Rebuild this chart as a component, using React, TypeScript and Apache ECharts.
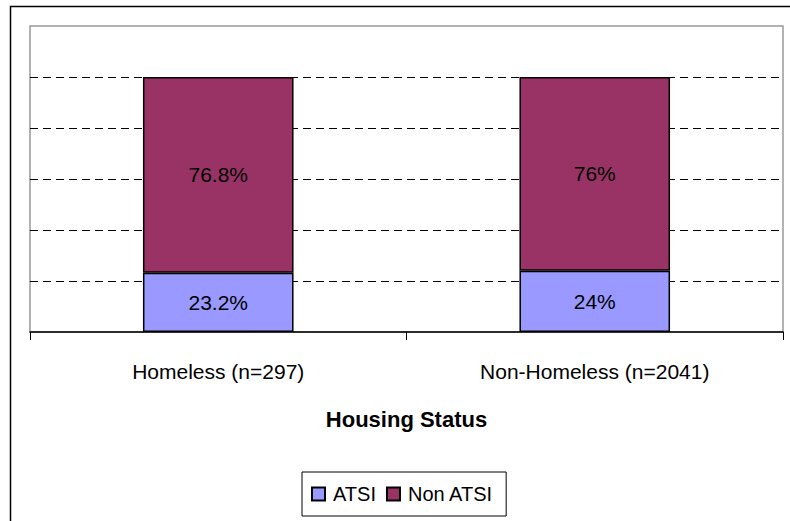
import React, { useEffect, useRef } from "react";
import * as echarts from "echarts";

const categories = ["Homeless (n=297)", "Non-Homeless (n=2041)"];
const atsiValues = [23.2, 24];
const nonAtsiValues = [76.8, 76];
const labelTexts = {
  atsi: ["23.2%", "24%"],
  nonAtsi: ["76.8%", "76%"],
};
const axisTitle = "Housing Status";

const FONT = "'Liberation Sans', Arial, sans-serif";

export default function App() {
  const ref = useRef<HTMLDivElement>(null);
  useEffect(() => {
    if (!ref.current) return;
    const chart = echarts.init(ref.current, null, { renderer: "svg" });
    chart.setOption({
      animation: false,
      backgroundColor: "#fff",
      textStyle: { fontFamily: FONT },
      graphic: [
        {
          type: "rect",
          shape: { x: 10.5, y: 6.5, width: 900, height: 700 },
          style: { fill: "none", stroke: "#000", lineWidth: 1.5 },
          silent: true,
          z: 0,
        },
      ],
      grid: {
        left: 30,
        top: 26,
        right: 7,
        bottom: 189,
        show: true,
        borderColor: "#999",
        borderWidth: 1.5,
        backgroundColor: "#fff",
      },
      legend: {
        left: 302,
        top: 472,
        orient: "horizontal",
        itemWidth: 13,
        itemHeight: 13,
        itemGap: 10,
        padding: [12, 13, 12, 9],
        borderColor: "#000",
        borderWidth: 1,
        textStyle: { fontSize: 20, color: "#000", fontFamily: FONT, padding: [0, 0, 0, 3] },
        data: [
          { name: "ATSI", icon: "rect" },
          { name: "Non ATSI", icon: "rect" },
        ],
      },
      xAxis: {
        type: "category",
        data: categories,
        name: axisTitle,
        nameLocation: "middle",
        nameGap: 76,
        nameTextStyle: { fontSize: 22, fontWeight: "bold", color: "#000", fontFamily: FONT },
        axisLine: { show: true, lineStyle: { color: "#000", width: 1.5 } },
        axisTick: { show: true, length: 8, lineStyle: { color: "#000" } },
        axisLabel: { fontSize: 21, color: "#000", margin: 29, fontFamily: FONT },
      },
      yAxis: {
        type: "value",
        min: 0,
        max: 120,
        interval: 20,
        axisLine: { show: false },
        axisTick: { show: false },
        axisLabel: { show: false },
        splitLine: {
          show: true,
          lineStyle: {
            color: ["transparent", "#000", "#000", "#000", "#000", "#000", "transparent"],
            type: [8, 5],
            width: 1,
          },
        },
      },
      series: [
        {
          name: "ATSI",
          type: "bar",
          stack: "total",
          barWidth: "40%",
          data: atsiValues,
          itemStyle: { color: "#9999FF", borderColor: "#000", borderWidth: 1.5 },
          label: {
            show: true,
            position: "inside",
            fontSize: 21,
            color: "#000",
            fontFamily: FONT,
            formatter: (p: any) => labelTexts.atsi[p.dataIndex],
          },
        },
        {
          name: "Non ATSI",
          type: "bar",
          stack: "total",
          barWidth: "40%",
          data: nonAtsiValues,
          itemStyle: { color: "#993366", borderColor: "#000", borderWidth: 1.5 },
          label: {
            show: true,
            position: "inside",
            fontSize: 21,
            color: "#000",
            fontFamily: FONT,
            formatter: (p: any) => labelTexts.nonAtsi[p.dataIndex],
          },
        },
      ],
    });
    return () => chart.dispose();
  }, []);
  return (
    <div
      ref={ref}
      style={{ position: "fixed", left: 0, top: 0, width: 790, height: 521 }}
    />
  );
}
